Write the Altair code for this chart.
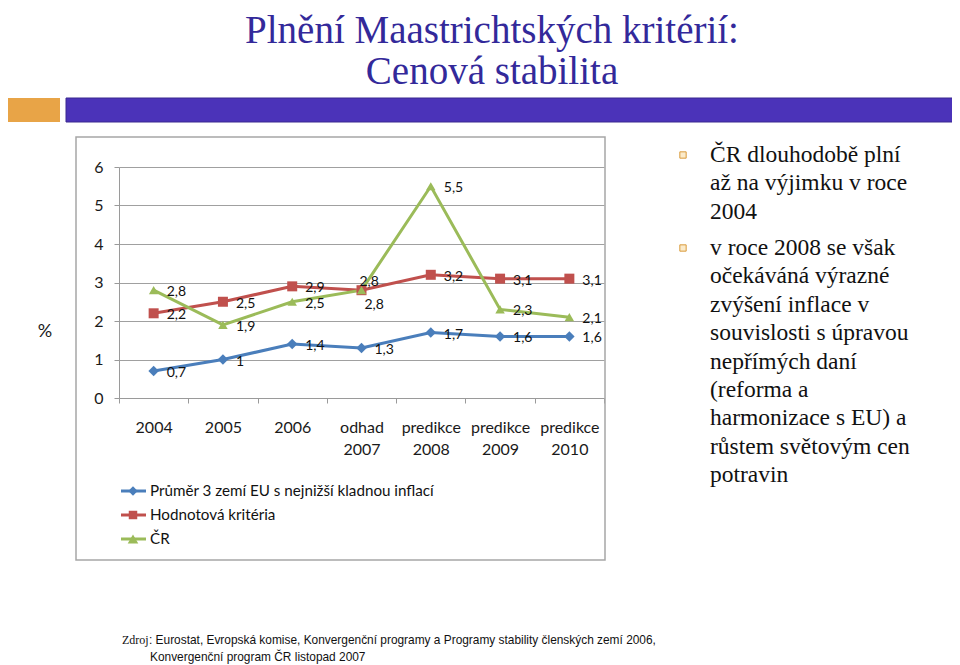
import altair as alt
import pandas as pd

# ---------------- data ----------------
categories = ["2004", "2005", "2006", "odhad 2007", "predikce 2008", "predikce 2009", "predikce 2010"]
series_names = ["Průměr 3 zemí EU  s nejnižší kladnou inflací", "Hodnotová kritéria", "ČR"]
prumer = [0.7, 1.0, 1.4, 1.3, 1.7, 1.6, 1.6]
hodnotova = [2.2, 2.5, 2.9, 2.8, 3.2, 3.1, 3.1]
cr = [2.8, 1.9, 2.5, 2.8, 5.5, 2.3, 2.1]
y_ticks = [0, 1, 2, 3, 4, 5, 6]

title_lines = ["Plnění Maastrichtských kritérií:", "Cenová stabilita"]
bullet1 = ["ČR dlouhodobě plní", "až na výjimku v roce", "2004"]
bullet2 = ["v roce 2008 se však", "očekáváná výrazné", "zvýšení inflace v", "souvislosti s úpravou",
           "nepřímých daní", "(reforma a", "harmonizace s EU) a", "růstem světovým cen", "potravin"]
source_lines = ["Eurostat, Evropská komise, Konvergenční programy a Programy stability členských zemí 2006,",
                "Konvergenční program ČR listopad 2007"]

# label placement exceptions (overlapping labels in 2007)
label_pos = {("Hodnotová kritéria", "odhad 2007"): "above", ("ČR", "odhad 2007"): "below"}

colors = ["#4A7EBB", "#C0504D", "#9BBB59"]
shapes = ["diamond", "square", "triangle-up"]
sizes = [110, 90, 140]

rows = []
for s, vals in zip(series_names, [prumer, hodnotova, cr]):
    for i, (c, v) in enumerate(zip(categories, vals)):
        rows.append({"cat": c, "idx": i, "series": s, "value": v,
                     "label": f"{v:g}".replace(".", ","),
                     "pos": label_pos.get((s, c), "right")})
df = pd.DataFrame(rows)

CH = "Lato"
SERIF = "Liberation Serif"
W, H = 485, 231
TOTAL_W, TOTAL_H = 944, 657

x_enc = alt.X("cat:N", sort=categories,
              scale=alt.Scale(type="band", domain=categories, paddingInner=0, paddingOuter=0),
              bandPosition=0.5,
              axis=alt.Axis(title=None, labelAngle=0, tickBand="extent", tickSize=5,
                            labelExpr="split(datum.label, ' ')", labelLineHeight=22,
                            labelFont=CH, labelFontSize=16, labelColor="#1a1a1a",
                            labelPadding=16, domainColor="#9a9a9a", tickColor="#9a9a9a",
                            labelBaseline="top", grid=False))
y_enc = alt.Y("value:Q", scale=alt.Scale(domain=[0, 6], nice=False, zero=True),
              axis=alt.Axis(title=None, values=y_ticks, grid=True, gridColor="#a0a0a0",
                            tickSize=5, tickColor="#9a9a9a", domainColor="#9a9a9a",
                            labelFont=CH, labelFontSize=16, labelColor="#1a1a1a",
                            labelPadding=11))
color_enc = alt.Color("series:N", scale=alt.Scale(domain=series_names, range=colors), legend=None)

base = alt.Chart(df)
lines = base.mark_line(strokeWidth=3).encode(x=x_enc, y=y_enc, color=color_enc, order="idx:Q")
points = base.mark_point(filled=True, opacity=1).encode(
    x=x_enc, y=y_enc, color=color_enc,
    shape=alt.Shape("series:N", scale=alt.Scale(domain=series_names, range=shapes), legend=None),
    size=alt.Size("series:N", scale=alt.Scale(domain=series_names, range=sizes), legend=None))


def labels(pos, dx, dy):
    return base.transform_filter(alt.datum.pos == pos).mark_text(
        align="left", baseline="middle", dx=dx, dy=dy, font=CH, fontSize=14, color="#111"
    ).encode(x=x_enc, y=y_enc, text="label:N")


one = pd.DataFrame({"k": [0]})
ox, oy = 119, 167  # page position of plot origin


def px(v):
    return alt.value(v - ox)


def py(v):
    return alt.value(v - oy)


back = []
front = []
# decorative bars
back.append(alt.Chart(one).mark_rect(color="#E8A447").encode(x=px(5), x2=px(60), y=py(98), y2=py(122)))
back.append(alt.Chart(one).mark_rect(color="#4B33B9", stroke="#3A2890", strokeWidth=1).encode(
    x=px(66), x2=px(960), y=py(98), y2=py(122)))
# chart box
back.append(alt.Chart(one).mark_rect(fill="transparent", stroke="#A6A6A6", strokeWidth=1.5).encode(
    x=px(76), x2=px(605), y=py(137), y2=py(560)))
# titles
for i, t in enumerate(title_lines):
    front.append(alt.Chart(one).mark_text(text=t, font=SERIF, fontSize=39, color="#33299A",
                                          align="center", baseline="alphabetic").encode(
        x=px(492), y=py(43 + 41 * i)))
# % label
front.append(alt.Chart(one).mark_text(text="%", font=CH, fontSize=18, color="#1a1a1a").encode(
    x=px(45), y=py(332)))
# legend
for i, (s, c, sh, sz) in enumerate(zip(series_names, colors, shapes, sizes)):
    yy = 491 + 24 * i
    front.append(alt.Chart(one).mark_rule(color=c, strokeWidth=3).encode(x=px(121), x2=px(146), y=py(yy)))
    front.append(alt.Chart(one).mark_point(shape=sh, filled=True, opacity=1, color=c, size=sz * 0.8).encode(
        x=px(133), y=py(yy)))
    front.append(alt.Chart(one).mark_text(text=s, font=CH, fontSize=15.2, color="#111",
                                          align="left", baseline="middle").encode(x=px(150), y=py(yy)))
# right bullets
for by in [155, 248]:
    front.append(alt.Chart(one).mark_point(shape="square", filled=True, opacity=1, fill="#FBEBCB",
                                           stroke="#D99A3A", strokeWidth=1, size=40).encode(
        x=px(683), y=py(by)))
for start, block in [(155, bullet1), (248, bullet2)]:
    for i, t in enumerate(block):
        front.append(alt.Chart(one).mark_text(text=t, font=SERIF, fontSize=23.5, color="#111",
                                              align="left", baseline="middle").encode(
            x=px(710), y=py(start + 28.4 * i)))
# source
front.append(alt.Chart(one).mark_text(text="Zdroj", font=SERIF, fontSize=12, color="#111",
                                      align="left", baseline="middle").encode(x=px(122), y=py(640)))
front.append(alt.Chart(one).mark_text(text=": " + source_lines[0], font="Liberation Sans", fontSize=11.9,
                                      color="#111", align="left", baseline="middle").encode(
    x=px(149), y=py(640)))
front.append(alt.Chart(one).mark_text(text=source_lines[1], font="Liberation Sans", fontSize=11.9,
                                      color="#111", align="left", baseline="middle").encode(
    x=px(150), y=py(657)))

chart = alt.layer(
    *back, lines, points,
    labels("right", 13, 2), labels("above", -2, -8), labels("below", 3, 15),
    *front
).properties(
    width=W, height=H,
    autosize=alt.AutoSizeParams(type="none"),
    padding={"left": ox - 8, "top": oy - 8, "right": TOTAL_W - (ox - 8) - W,
             "bottom": TOTAL_H - (oy - 8) - H},
    background="white",
).configure_view(strokeWidth=0)

chart.save("out.html", embed_options={"renderer": "svg", "actions": False})
